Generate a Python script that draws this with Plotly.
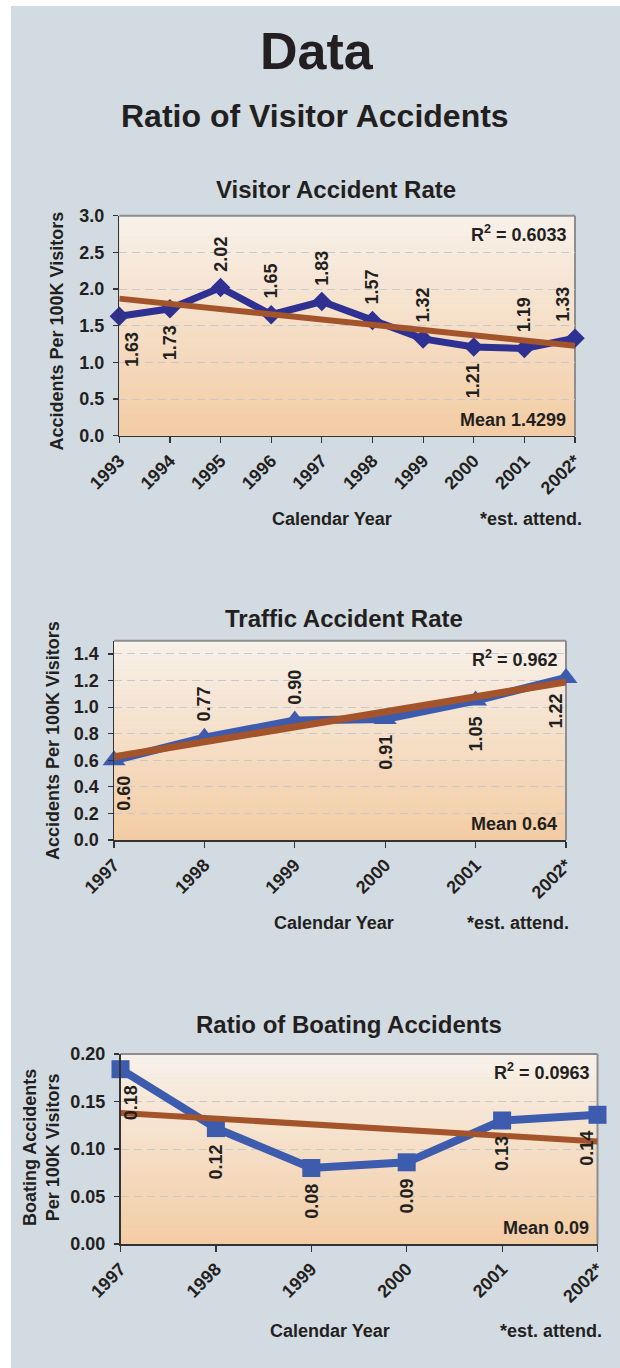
import numpy as np
import plotly.graph_objects as go

W, H = 620, 1368

# ---------------- data ----------------
visitor_years = ["1993", "1994", "1995", "1996", "1997", "1998", "1999", "2000", "2001", "2002*"]
visitor_rate = [1.63, 1.73, 2.02, 1.65, 1.83, 1.57, 1.32, 1.21, 1.19, 1.33]
visitor_label_side = ["below", "below", "above", "above", "above", "above", "above", "below", "above", "above"]
visitor_r2 = "0.6033"
visitor_mean = "1.4299"

traffic_years = ["1997", "1998", "1999", "2000", "2001", "2002*"]
traffic_rate = [0.60, 0.77, 0.90, 0.91, 1.05, 1.22]
traffic_label_side = ["below", "above", "above", "below", "below", "below"]
traffic_r2 = "0.962"
traffic_mean = "0.64"

boating_years = ["1997", "1998", "1999", "2000", "2001", "2002*"]
boating_rate = [0.184, 0.122, 0.080, 0.086, 0.130, 0.136]
boating_label_side = ["below", "below", "below", "below", "below", "below"]
boating_r2 = "0.0963"
boating_mean = "0.09"

# ---------------- style ----------------
FONT = "Liberation Sans, Arial, Helvetica, sans-serif"
TXT = "#231f20"
PANEL = "#d3dbe2"
TREND = "#a3542b"
GRID = "#c9c9c9"
TOP_RGB = (248, 241, 234)
BOT_RGB = (243, 204, 163)


def px_x(p):
    return p / W


def px_y(p):
    return 1 - p / H


charts = [
    dict(years=visitor_years, vals=visitor_rate, sides=visitor_label_side, r2=visitor_r2, mean=visitor_mean,
         box=(119.3, 575, 215.7, 435.7), yrange=[0, 3.0], tickvals=[0, 0.5, 1.0, 1.5, 2.0, 2.5, 3.0], fmt="{:.1f}",
         color="#2e3192", symbol="diamond", msize=15, lw=7, tw=6,
         title="Visitor Accident Rate", title_xy=(336, 188),
         ytitle="Accidents Per 100K Visitors", ytitle_xy=(56.5, 331),
         cal_xy=(332, 518), est_xy=(530.7, 518), edge=12),
    dict(years=traffic_years, vals=traffic_rate, sides=traffic_label_side, r2=traffic_r2, mean=traffic_mean,
         box=(114, 566, 640.7, 840), yrange=[0, 1.5], tickvals=[0, 0.2, 0.4, 0.6, 0.8, 1.0, 1.2, 1.4], fmt="{:.1f}",
         color="#3d5cad", symbol="triangle-up", msize=20, lw=8, tw=7,
         title="Traffic Accident Rate", title_xy=(344, 617),
         ytitle="Accidents Per 100K Visitors", ytitle_xy=(53, 741),
         cal_xy=(333.7, 921.7), est_xy=(518.3, 921.7), edge=10),
    dict(years=boating_years, vals=boating_rate, sides=boating_label_side, r2=boating_r2, mean=boating_mean,
         box=(120.5, 597.5, 1054, 1244), yrange=[0, 0.2], tickvals=[0, 0.05, 0.10, 0.15, 0.20], fmt="{:.2f}",
         color="#3d5cad", symbol="square", msize=18, lw=8, tw=6,
         title="Ratio of Boating Accidents", title_xy=(348.5, 1023),
         ytitle="Boating Accidents<br>Per 100K Visitors", ytitle_xy=(41, 1148),
         cal_xy=(329.5, 1330), est_xy=(550.5, 1330), edge=10),
]

fig = go.Figure()
shapes = []
annotations = []

# panel background
shapes.append(dict(type="rect", xref="paper", yref="paper", x0=px_x(11), x1=1, y0=0, y1=px_y(6),
                   fillcolor=PANEL, line=dict(width=0), layer="below"))

annotations.append(dict(text="Data", x=px_x(317), y=px_y(51), xref="paper", yref="paper", showarrow=False,
                        font=dict(family=FONT, size=52, color=TXT, weight="bold"), xanchor="center", yanchor="middle"))
annotations.append(dict(text="Ratio of Visitor Accidents", x=px_x(315), y=px_y(116), xref="paper", yref="paper",
                        showarrow=False, font=dict(family=FONT, size=32, color=TXT, weight="bold"),
                        xanchor="center", yanchor="middle"))

NSTEP = 40
for i, c in enumerate(charts, start=1):
    xa = "x" if i == 1 else f"x{i}"
    ya = "y" if i == 1 else f"y{i}"
    xk = "xaxis" if i == 1 else f"xaxis{i}"
    yk = "yaxis" if i == 1 else f"yaxis{i}"
    x0, x1, ytop, ybot = c["box"]
    n = len(c["years"])
    idx = np.arange(n)

    # gradient background
    for s in range(NSTEP):
        t = (s + 0.5) / NSTEP  # 0 at bottom
        r, g, b = [int(round(BOT_RGB[k] + (TOP_RGB[k] - BOT_RGB[k]) * t)) for k in range(3)]
        shapes.append(dict(type="rect", xref=f"{xa} domain", yref=f"{ya} domain", x0=0, x1=1,
                           y0=s / NSTEP, y1=min(1, (s + 1.05) / NSTEP),
                           fillcolor=f"rgb({r},{g},{b})", line=dict(width=0), layer="below"))
    # grey top/right frame
    shapes.append(dict(type="line", xref=f"{xa} domain", yref=f"{ya} domain", x0=0, x1=1, y0=1, y1=1,
                       line=dict(color="#8e8e8e", width=2), layer="below"))
    shapes.append(dict(type="line", xref=f"{xa} domain", yref=f"{ya} domain", x0=1, x1=1, y0=0, y1=1,
                       line=dict(color="#8e8e8e", width=2), layer="below"))

    # data line
    fig.add_trace(go.Scatter(x=c["years"], y=c["vals"], mode="lines+markers", xaxis=xa, yaxis=ya,
                             line=dict(color=c["color"], width=c["lw"]),
                             marker=dict(symbol=c["symbol"], size=c["msize"], color=c["color"]),
                             cliponaxis=False, hoverinfo="skip"))
    # linear trend from the data
    slope, icpt = np.polyfit(idx, np.array(c["vals"]), 1)
    trend = icpt + slope * idx
    fig.add_trace(go.Scatter(x=[c["years"][0], c["years"][-1]], y=[trend[0], trend[-1]], mode="lines",
                             xaxis=xa, yaxis=ya, line=dict(color=TREND, width=c["tw"]), hoverinfo="skip"))

    fig.update_layout({
        xk: dict(domain=[px_x(x0), px_x(x1)], anchor=ya, type="category", categoryorder="array",
                 categoryarray=c["years"], range=[0, n - 1], showgrid=False, showline=True,
                 linecolor="#333333", linewidth=1.5, ticks="outside", ticklen=6, tickwidth=1.2,
                 tickcolor="#333333", tickangle=-45, zeroline=False, automargin=False,
                 tickfont=dict(family=FONT, size=18, color=TXT, weight="bold")),
        yk: dict(domain=[px_y(ybot), px_y(ytop)], anchor=xa, range=c["yrange"], tickvals=c["tickvals"],
                 ticktext=[c["fmt"].format(v) for v in c["tickvals"]], showgrid=True, gridcolor=GRID,
                 griddash="8px,5px", gridwidth=1, showline=True, linecolor="#333333", linewidth=1.5,
                 ticks="outside", ticklen=5, tickwidth=1.2, tickcolor="#333333", zeroline=False,
                 ticklabelstandoff=5, automargin=False,
                 tickfont=dict(family=FONT, size=18, color=TXT, weight="bold")),
    })

    bold18 = dict(family=FONT, size=18, color=TXT, weight="bold")
    # data labels (x given as category index)
    for k, (v, side) in enumerate(zip(c["vals"], c["sides"])):
        xs = 0
        if k == 0:
            xs = c["edge"]
        elif k == n - 1:
            xs = -c["edge"]
        annotations.append(dict(x=k, y=v, xref=xa, yref=ya, text=f"{v:.2f}", textangle=-90, showarrow=False,
                                font=bold18, xanchor="center",
                                yanchor="bottom" if side == "above" else "top",
                                yshift=14 if side == "above" else -14, xshift=xs))
    # R^2 and mean
    annotations.append(dict(x=1, y=1, xref=f"{xa} domain", yref=f"{ya} domain",
                            text=f"R<sup>2</sup> = {c['r2']}", showarrow=False, font=bold18,
                            xanchor="right", yanchor="top", xshift=-6, yshift=-4))
    annotations.append(dict(x=1, y=0, xref=f"{xa} domain", yref=f"{ya} domain",
                            text=f"Mean {c['mean']}", showarrow=False, font=bold18,
                            xanchor="right", yanchor="bottom", xshift=-7, yshift=4))
    # titles and axis labels
    annotations.append(dict(x=px_x(c["title_xy"][0]), y=px_y(c["title_xy"][1] + 1), xref="paper", yref="paper",
                            text=c["title"], showarrow=False,
                            font=dict(family=FONT, size=24, color=TXT, weight="bold"),
                            xanchor="center", yanchor="middle"))
    annotations.append(dict(x=px_x(c["ytitle_xy"][0]), y=px_y(c["ytitle_xy"][1]), xref="paper", yref="paper",
                            text=c["ytitle"], showarrow=False, textangle=-90, font=bold18,
                            xanchor="center", yanchor="middle"))
    annotations.append(dict(x=px_x(c["cal_xy"][0]), y=px_y(c["cal_xy"][1] + 1), xref="paper", yref="paper",
                            text="Calendar Year", showarrow=False, font=bold18,
                            xanchor="center", yanchor="middle"))
    annotations.append(dict(x=px_x(c["est_xy"][0]), y=px_y(c["est_xy"][1] + 1), xref="paper", yref="paper",
                            text="*est. attend.", showarrow=False, font=bold18,
                            xanchor="center", yanchor="middle"))

fig.update_layout(width=W, height=H, autosize=False, margin=dict(l=0, r=0, t=0, b=0, autoexpand=False),
                  paper_bgcolor="white", plot_bgcolor="rgba(0,0,0,0)", showlegend=False,
                  shapes=shapes, annotations=annotations, font=dict(family=FONT, color=TXT))

fig.write_html("out.html", config={"displayModeBar": False, "staticPlot": True},
               post_script="document.body.style.margin='0';document.body.style.overflow='hidden';")
